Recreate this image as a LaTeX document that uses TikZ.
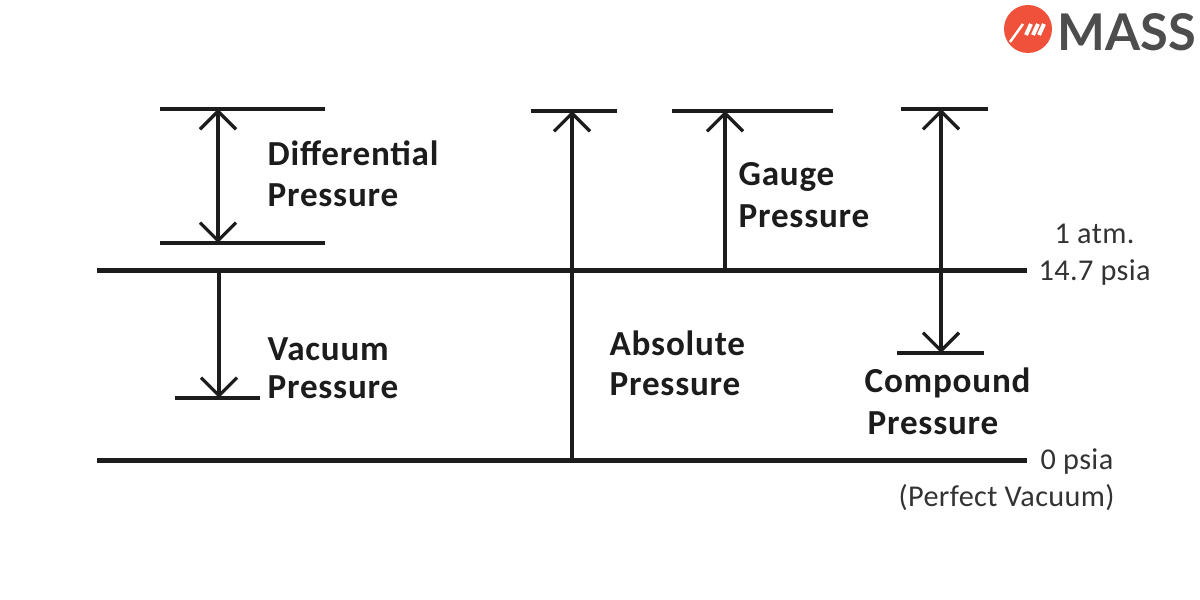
\documentclass[tikz,border=0pt]{standalone}
\usepackage{fontspec}
\setmainfont{Carlito}
\newfontfamily\lblfont[LetterSpace=2.2]{Carlito}
\newfontfamily\sidefont[LetterSpace=1.2]{Carlito}
\newfontfamily\logofont{Lato}
\usetikzlibrary{arrows.meta}
\definecolor{logored}{HTML}{F0513A}
\definecolor{logogrey}{HTML}{4D4D4D}
\definecolor{inkgrey}{HTML}{1C1C1C}
\tikzset{lvl/.style={line width=0.5mm, draw=inkgrey},
         brline/.style={line width=0.33mm, draw=inkgrey},
         arwone/.style={line width=0.33mm, draw=inkgrey, -{Straight Barb[length=1.8mm,width=3.6mm,line width=0.33mm]}},
         arwtwo/.style={line width=0.33mm, draw=inkgrey, {Straight Barb[length=1.8mm,width=3.6mm,line width=0.33mm]}-{Straight Barb[length=1.8mm,width=3.6mm,line width=0.33mm]}},
         lbl/.style={anchor=west, font=\lblfont\fontsize{10}{11}\selectfont\bfseries, text=inkgrey, inner sep=0pt},
         sidelbl/.style={anchor=west, font=\sidefont\fontsize{8.6}{10}\selectfont, text=inkgrey!90, inner sep=0pt},
         slash/.style={white, line width=0.4mm}}

\begin{document}
\begin{tikzpicture}[x=1cm, y=1cm]
  \useasboundingbox (0,0) rectangle (12,6);

  % ---------- the two levels ----------
  \coordinate (atmL) at (0.97,3.29);
  \coordinate (atmR) at (10.27,3.29);
  \coordinate (zeroL) at (0.97,1.39);
  \coordinate (zeroR) at (10.27,1.39);
  \draw[lvl] (atmL) -- (atmR);
  \draw[lvl] (zeroL) -- (zeroR);

  % ---------- differential ----------
  \coordinate (diffTL) at (1.60,4.91);
  \coordinate (diffTR) at (3.25,4.91);
  \coordinate (diffBL) at (1.60,3.57);
  \coordinate (diffBR) at (3.25,3.57);
  \coordinate (diffT) at (2.18,4.91);
  \coordinate (diffB) at (2.18,3.57);
  \draw[brline] (diffTL) -- (diffTR);
  \draw[brline] (diffBL) -- (diffBR);
  \draw[arwtwo] (diffB) -- (diffT);
  \node[lbl] (diffA) at (2.67,4.47){Differential};
  \node[lbl] (diffC) at (2.67,4.05){Pressure};

  % ---------- vacuum ----------
  \coordinate (vacL) at (1.75,2.02);
  \coordinate (vacR) at (2.60,2.02);
  \coordinate (vacT) at (2.19,3.29);
  \coordinate (vacB) at (2.19,2.02);
  \draw[brline] (vacL) -- (vacR);
  \draw[arwone] (vacT) -- (vacB);
  \node[lbl] (vacA) at (2.67,2.51){Vacuum};
  \node[lbl] (vacC) at (2.67,2.13){Pressure};

  % ---------- absolute ----------
  \coordinate (absL) at (5.31,4.89);
  \coordinate (absR) at (6.17,4.89);
  \coordinate (absT) at (5.72,4.89);
  \coordinate (absB) at (5.72,1.39);
  \draw[brline] (absL) -- (absR);
  \draw[arwone] (absB) -- (absT);
  \node[lbl] (absA) at (6.09,2.57){Absolute};
  \node[lbl] (absC) at (6.09,2.16){Pressure};

  % ---------- gauge ----------
  \coordinate (gagL) at (6.72,4.89);
  \coordinate (gagR) at (8.33,4.89);
  \coordinate (gagT) at (7.25,4.89);
  \coordinate (gagB) at (7.25,3.29);
  \draw[brline] (gagL) -- (gagR);
  \draw[arwone] (gagB) -- (gagT);
  \node[lbl] (gagA) at (7.38,4.23){Gauge};
  \node[lbl] (gagC) at (7.38,3.84){Pressure};

  % ---------- compound ----------
  \coordinate (cmpTL) at (9.01,4.91);
  \coordinate (cmpTR) at (9.88,4.91);
  \coordinate (cmpBL) at (8.97,2.47);
  \coordinate (cmpBR) at (9.84,2.47);
  \coordinate (cmpT) at (9.41,4.91);
  \coordinate (cmpB) at (9.41,2.47);
  \draw[brline] (cmpTL) -- (cmpTR);
  \draw[brline] (cmpBL) -- (cmpBR);
  \draw[arwtwo] (cmpB) -- (cmpT);
  \node[lbl] (cmpA) at (8.64,2.17){Compound};
  \node[lbl] (cmpC) at (8.67,1.77){Pressure};

  % ---------- labels on the right ----------
  \node[sidelbl] (atmA) at (10.54,3.66){1 atm.};
  \node[sidelbl] (atmC) at (10.38,3.27){14.7 psia};
  \node[sidelbl] (zeroA) at (10.40,1.38){0 psia};
  \node[sidelbl] (zeroC) at (8.98,1.02){(Perfect Vacuum)};

  % ---------- logo ----------
  \fill[logored] (10.28,5.71) circle (0.24);
  \draw[white, line width=0.25mm] (10.10,5.58) -- (10.23,5.76);
  \draw[slash] (10.26,5.65) -- (10.31,5.76);
  \draw[slash] (10.33,5.65) -- (10.38,5.76);
  \draw[slash] (10.39,5.65) -- (10.44,5.76);
  \node[font=\logofont\fontsize{14.4}{16}\selectfont\bfseries, text=logogrey, inner sep=0pt, anchor=west] (logo) at (10.57,5.68){MASS};
\end{tikzpicture}
\end{document}
